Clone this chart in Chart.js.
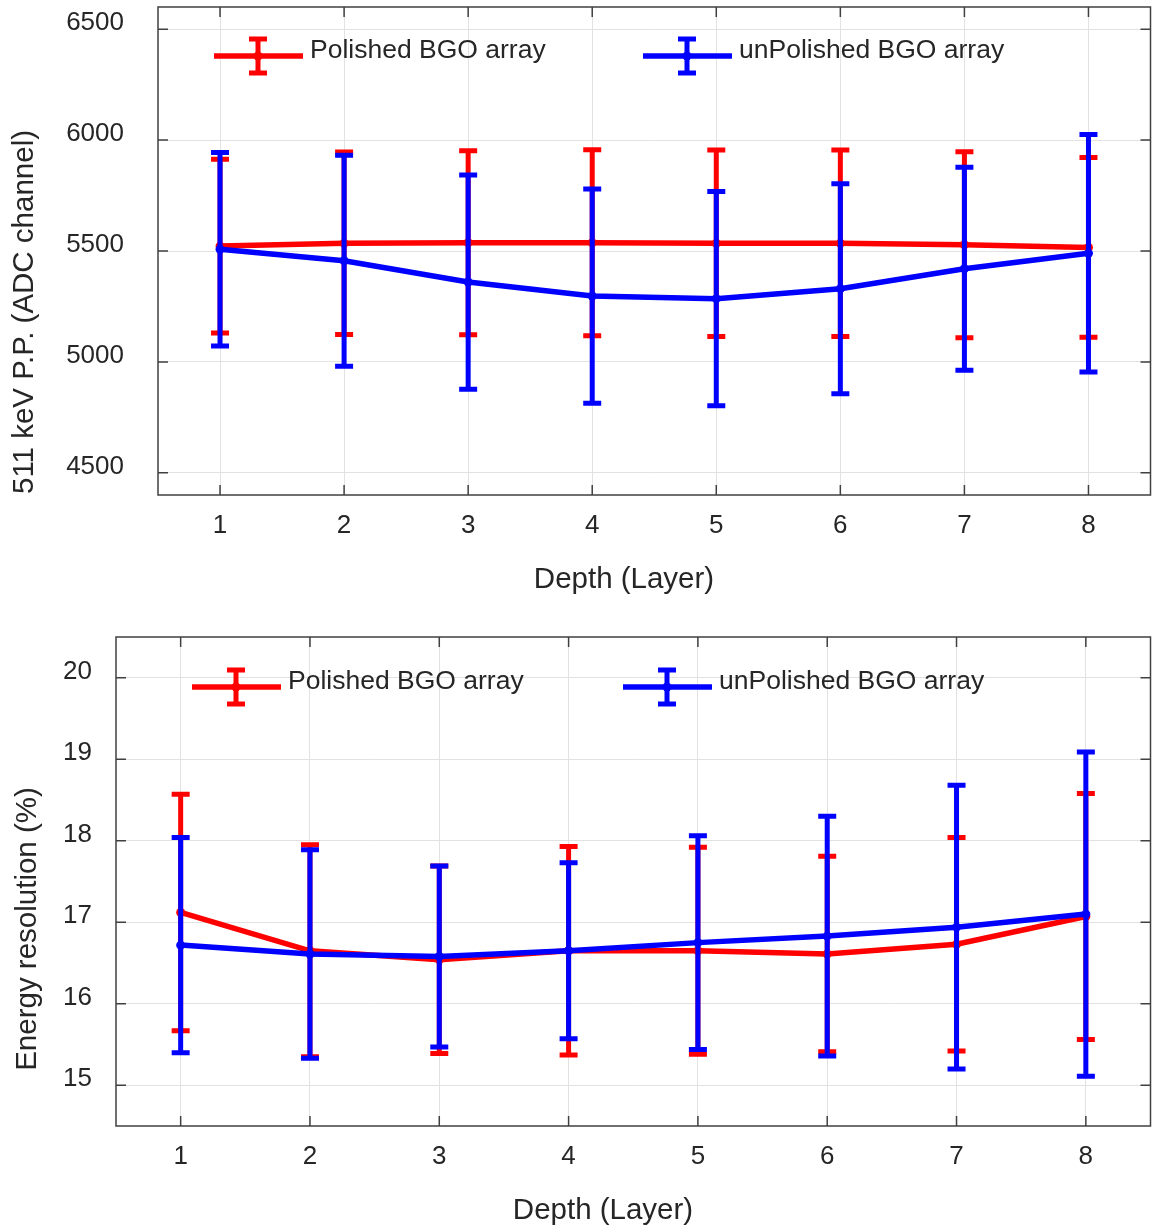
<!DOCTYPE html>
<html>
<head>
<meta charset="utf-8">
<script src="https://cdn.jsdelivr.net/npm/chart.js@4.4.1/dist/chart.umd.min.js"></script>
<style>
  body { margin: 0; background: #fff; }
  .box { position: absolute; left: 0; width: 1155px; }
  #top { top: 0; height: 615px; }
  #bottom { top: 615px; height: 616px; }
</style>
</head>
<body>
<div class="box" id="top"><canvas id="ppChart"></canvas></div>
<div class="box" id="bottom"><canvas id="erChart"></canvas></div>
<script>
// depth layers on the x axis
const layers = [1, 2, 3, 4, 5, 6, 7, 8];

// 511 keV photopeak position (ADC channel)
const ppPolished = [5522, 5535, 5537, 5537, 5535, 5535, 5528, 5516];
const ppPolishedErr = [392, 411, 415, 419, 420, 420, 419, 405];
const ppUnpolished = [5508, 5456, 5360, 5297, 5285, 5330, 5420, 5490];
const ppUnpolishedErr = [436, 476, 483, 483, 483, 473, 458, 535];
const ppTicks = [4500, 5000, 5500, 6000, 6500];

// energy resolution (%)
const erPolished = [17.12, 16.65, 16.54, 16.65, 16.65, 16.61, 16.73, 17.07];
const erPolishedErr = [1.45, 1.30, 1.15, 1.28, 1.27, 1.20, 1.31, 1.51];
const erUnpolished = [16.72, 16.61, 16.58, 16.65, 16.75, 16.83, 16.94, 17.10];
const erUnpolishedErr = [1.32, 1.28, 1.11, 1.08, 1.31, 1.47, 1.74, 1.99];
const erTicks = [15, 16, 17, 18, 19, 20];

const seriesNames = ["Polished BGO array", "unPolished BGO array"];
const RED = "#ff0000", BLUE = "#0000ff", INK = "#262626";

Chart.defaults.font.family = "'Liberation Sans', Arial, sans-serif";
Chart.defaults.color = INK;
Chart.defaults.animation = false;

function toPoints(vals) {
  return vals.map((v, i) => ({ x: layers[i], y: v }));
}

// error bars are drawn just before each dataset's own line
const errorBars = {
  id: "errorBars",
  beforeDatasetDraw(chart, args) {
    const ds = chart.data.datasets[args.index];
    if (!ds.errors) return;
    const ctx = chart.ctx, y = chart.scales.y;
    ctx.save();
    ctx.strokeStyle = ds.borderColor;
    ctx.lineWidth = 5;
    ctx.lineCap = "butt";
    args.meta.data.forEach((pt, i) => {
      const v = ds.data[i].y, e = ds.errors[i];
      const top = y.getPixelForValue(v + e), bot = y.getPixelForValue(v - e);
      ctx.beginPath();
      ctx.moveTo(pt.x, top); ctx.lineTo(pt.x, bot);
      ctx.moveTo(pt.x - 9, top); ctx.lineTo(pt.x + 9, top);
      ctx.moveTo(pt.x - 9, bot); ctx.lineTo(pt.x + 9, bot);
      ctx.stroke();
    });
    ctx.restore();
  }
};

// matlab-like frame, inward ticks, legend and axis titles
const decorations = {
  id: "decorations",
  afterDraw(chart, args, opts) {
    const ctx = chart.ctx, a = chart.chartArea;
    const xs = chart.scales.x, ys = chart.scales.y;
    ctx.save();
    ctx.strokeStyle = "#404040";
    ctx.lineWidth = 1.5;
    ctx.strokeRect(a.left, a.top, a.right - a.left, a.bottom - a.top);
    ctx.beginPath();
    xs.ticks.forEach(t => {
      const px = xs.getPixelForValue(t.value);
      ctx.moveTo(px, a.bottom); ctx.lineTo(px, a.bottom - 10);
      ctx.moveTo(px, a.top); ctx.lineTo(px, a.top + 10);
    });
    ys.ticks.forEach(t => {
      const py = ys.getPixelForValue(t.value);
      ctx.moveTo(a.left, py); ctx.lineTo(a.left + 10, py);
      ctx.moveTo(a.right, py); ctx.lineTo(a.right - 10, py);
    });
    ctx.stroke();

    // legend inside the axes
    chart.data.datasets.forEach((ds, i) => {
      const lx = opts.legend[i], ly = opts.legendY;
      ctx.strokeStyle = ds.borderColor;
      ctx.fillStyle = ds.borderColor;
      ctx.lineWidth = 5.5;
      ctx.beginPath();
      ctx.moveTo(lx, ly); ctx.lineTo(lx + 89, ly);
      ctx.stroke();
      const cx = lx + 44;
      ctx.lineWidth = 5;
      ctx.beginPath();
      ctx.moveTo(cx, ly - 17); ctx.lineTo(cx, ly + 17);
      ctx.moveTo(cx - 9, ly - 17); ctx.lineTo(cx + 9, ly - 17);
      ctx.moveTo(cx - 9, ly + 17); ctx.lineTo(cx + 9, ly + 17);
      ctx.stroke();
      ctx.beginPath();
      ctx.arc(cx, ly, 4.5, 0, Math.PI * 2);
      ctx.fill();
      ctx.fillStyle = INK;
      ctx.font = "26.5px 'Liberation Sans', Arial, sans-serif";
      ctx.textBaseline = "middle";
      ctx.textAlign = "left";
      ctx.fillText(ds.label, lx + 96, ly - 5);
    });

    // axis titles
    ctx.fillStyle = INK;
    ctx.font = "29.5px 'Liberation Sans', Arial, sans-serif";
    ctx.textAlign = "center";
    ctx.textBaseline = "middle";
    ctx.fillText(opts.xTitle, opts.xTitlePos[0], opts.xTitlePos[1]);
    ctx.translate(opts.yTitlePos[0], opts.yTitlePos[1]);
    ctx.rotate(-Math.PI / 2);
    ctx.fillText(opts.yTitle, 0, 0);
    ctx.restore();
  }
};

function makeChart(id, s) {
  return new Chart(document.getElementById(id), {
    type: "line",
    data: {
      datasets: [
        { label: seriesNames[0], data: toPoints(s.red), errors: s.redErr, borderColor: RED, backgroundColor: RED, order: 1 },
        { label: seriesNames[1], data: toPoints(s.blue), errors: s.blueErr, borderColor: BLUE, backgroundColor: BLUE, order: 0 }
      ]
    },
    options: {
      responsive: true,
      maintainAspectRatio: false,
      elements: {
        line: { borderWidth: 5.5, tension: 0 },
        point: { radius: 4.5, borderWidth: 0 }
      },
      layout: { padding: { top: s.padTop, right: 4, left: 0, bottom: 0 } },
      scales: {
        x: {
          type: "linear", min: 0.5, max: 8.5,
          afterBuildTicks: axis => { axis.ticks = layers.map(v => ({ value: v })); },
          afterFit: axis => { axis.height = s.xAxisH; axis.paddingLeft = 0; axis.paddingRight = 0; },
          grid: { color: "#e2e2e2", lineWidth: 1, drawTicks: false },
          border: { display: false },
          ticks: { font: { size: 26 }, padding: 15, maxRotation: 0 }
        },
        y: {
          min: s.yMin, max: s.yMax,
          afterBuildTicks: axis => { axis.ticks = s.yTicks.map(v => ({ value: v })); },
          afterFit: axis => { axis.width = s.yAxisW; axis.paddingTop = 0; axis.paddingBottom = 0; },
          grid: { color: "#e2e2e2", lineWidth: 1, drawTicks: false },
          border: { display: false },
          ticks: { font: { size: 26 }, padding: s.yPad, labelOffset: -6, callback: v => String(v) }
        }
      },
      plugins: {
        legend: { display: false },
        tooltip: { enabled: false },
        decorations: {
          legend: s.legend, legendY: s.legendY,
          xTitle: "Depth (Layer)", xTitlePos: s.xTitlePos,
          yTitle: s.yTitle, yTitlePos: s.yTitlePos
        }
      }
    },
    plugins: [errorBars, decorations]
  });
}

makeChart("ppChart", {
  red: ppPolished, redErr: ppPolishedErr, blue: ppUnpolished, blueErr: ppUnpolishedErr,
  yMin: 4400, yMax: 6600, yTicks: ppTicks,
  padTop: 7, xAxisH: 120, yAxisW: 158, yPad: 34,
  legend: [214, 643], legendY: 56,
  xTitlePos: [624, 580], yTitle: "511 keV P.P. (ADC channel)", yTitlePos: [25, 312]
});

makeChart("erChart", {
  red: erPolished, redErr: erPolishedErr, blue: erUnpolished, blueErr: erUnpolishedErr,
  yMin: 14.5, yMax: 20.5, yTicks: erTicks,
  padTop: 22, xAxisH: 105, yAxisW: 116, yPad: 24,
  legend: [192, 623], legendY: 72,
  xTitlePos: [603, 596], yTitle: "Energy resolution (%)", yTitlePos: [28, 314]
});
</script>
</body>
</html>
